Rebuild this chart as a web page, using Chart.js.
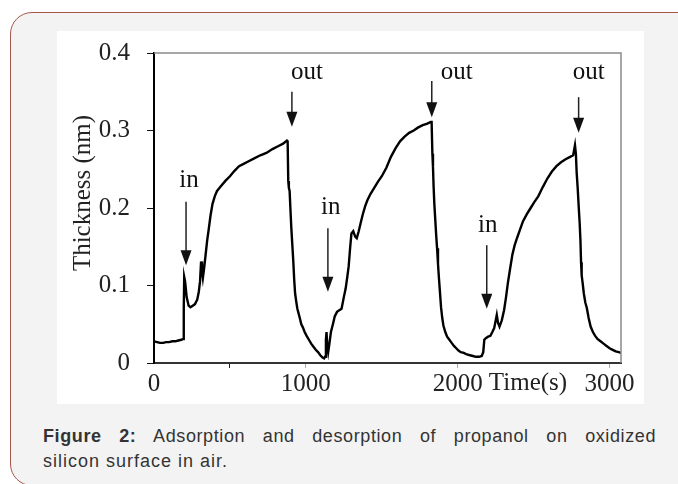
<!DOCTYPE html>
<html>
<head>
<meta charset="utf-8">
<script src="https://cdn.jsdelivr.net/npm/chart.js@4.4.1/dist/chart.umd.min.js"></script>
<style>
  html, body { margin:0; padding:0; }
  body { width:678px; height:484px; overflow:hidden; background:#fff; position:relative; }
  .card { position:absolute; left:10px; top:12px; width:720px; height:472px; border:1.5px solid #a4584c; border-radius:22px; background:#f3f3f3; }
  .panel { position:absolute; left:57px; top:31px; width:587px; height:373px; background:#fff; }
  .cap { position:absolute; left:43px; font-family:'Liberation Sans', Arial, sans-serif; font-size:18px; line-height:25px; color:#333; letter-spacing:1px; white-space:nowrap; }
  .l1 { top:424px; width:613px; text-align:justify; text-align-last:justify; white-space:normal; letter-spacing:0.6px; }
  .l2 { top:449px; }
  canvas { position:absolute; left:57px; top:21px; }
</style>
</head>
<body>
<div class="card"></div>
<div class="panel"></div>
<canvas id="c" width="587" height="383"></canvas>
<div class="cap l1"><b>Figure 2:</b> Adsorption and desorption of propanol on oxidized</div>
<div class="cap l2">silicon surface in air.</div>
<script>
// ---- data (time in s, thickness in nm) ----
const times = [0,20,40,60,80,100,120,140,160,180,192,196,199,205,215,228,240,255,270,285,295,303,310,316,322,330,340,350,360,372,385,400,415,440,470,500,530,560,590,620,660,700,740,780,820,850,875,880,884,888,893,898,904,910,917,923,929,936,944,952,960,970,980,992,1005,1020,1035,1050,1065,1080,1095,1110,1120,1126,1132,1136,1141,1147,1155,1165,1178,1190,1205,1220,1235,1250,1262,1272,1282,1292,1300,1312,1325,1335,1348,1360,1375,1390,1405,1425,1450,1475,1500,1530,1560,1590,1620,1650,1680,1710,1740,1770,1800,1822,1828,1833,1837,1841,1846,1852,1858,1864,1870,1876,1882,1890,1898,1906,1918,1930,1945,1960,1975,1990,2005,2020,2040,2060,2080,2100,2120,2140,2158,2168,2175,2185,2200,2215,2228,2240,2250,2257,2265,2275,2290,2305,2318,2330,2345,2360,2375,2390,2410,2430,2455,2480,2505,2530,2560,2590,2620,2650,2680,2710,2740,2760,2772,2778,2783,2790,2797,2803,2808,2812,2816,2822,2830,2840,2850,2862,2875,2890,2905,2920,2940,2960,2980,3000,3020,3040,3060,3075];
const thickness = [0.028,0.027,0.026,0.026,0.027,0.027,0.028,0.028,0.029,0.030,0.031,0.070,0.111,0.105,0.085,0.074,0.072,0.074,0.076,0.082,0.092,0.105,0.131,0.120,0.110,0.122,0.140,0.158,0.172,0.190,0.205,0.215,0.222,0.228,0.235,0.241,0.248,0.254,0.257,0.260,0.264,0.268,0.271,0.276,0.280,0.283,0.287,0.286,0.235,0.226,0.222,0.200,0.175,0.155,0.132,0.108,0.090,0.080,0.070,0.064,0.058,0.050,0.046,0.040,0.035,0.030,0.025,0.021,0.017,0.014,0.010,0.007,0.006,0.008,0.030,0.040,0.022,0.014,0.025,0.040,0.050,0.060,0.066,0.068,0.070,0.085,0.096,0.110,0.125,0.150,0.167,0.170,0.163,0.161,0.170,0.180,0.192,0.202,0.210,0.218,0.226,0.234,0.241,0.252,0.266,0.277,0.286,0.292,0.297,0.300,0.304,0.307,0.309,0.311,0.311,0.270,0.253,0.228,0.205,0.185,0.165,0.148,0.128,0.110,0.094,0.072,0.058,0.048,0.040,0.034,0.030,0.026,0.022,0.019,0.016,0.014,0.013,0.011,0.010,0.009,0.008,0.008,0.009,0.014,0.030,0.032,0.034,0.035,0.040,0.045,0.055,0.062,0.052,0.047,0.055,0.068,0.085,0.103,0.122,0.140,0.152,0.161,0.172,0.183,0.192,0.200,0.208,0.215,0.227,0.238,0.247,0.254,0.259,0.263,0.266,0.268,0.281,0.270,0.246,0.225,0.200,0.180,0.158,0.130,0.113,0.104,0.090,0.078,0.071,0.058,0.047,0.040,0.035,0.031,0.028,0.025,0.022,0.019,0.017,0.015,0.014,0.013];

// ---- axes / ticks ----
const xMin = 0, xMax = 3075;
const xTicks = [0, 500, 1000, 1500, 2000, 2500, 3000];
const xTickLabels = ['0', '', '1000', '', '2000', '', '3000'];
const yMin = 0, yMax = 0.4;
const yTicks = [0, 0.1, 0.2, 0.3, 0.4];
const yTickLabels = ['0', '0.1', '0.2', '0.3', '0.4'];
const xTitle = 'Time(s)';
const yTitle = 'Thickness (nm)';

// ---- annotations: "in" / "out" arrows ----
const arrowLabels = ['in', 'out', 'in', 'out', 'in', 'out'];
const arrowTimes  = [211, 908, 1145, 1829, 2191, 2796];
const arrowTops   = [0.208, 0.350, 0.174, 0.364, 0.152, 0.343];
const arrowTips   = [0.126, 0.305, 0.092, 0.317, 0.070, 0.297];
const labelTimes  = [230, 1007, 1164, 1993, 2197, 2862];
const labelValues = [0.236, 0.375, 0.201, 0.375, 0.178, 0.375];

const SERIF = "'Liberation Serif', 'Times New Roman', serif";
const FS = 25;

const points = times.map((t, i) => ({ x: t, y: thickness[i] }));

const decor = {
  id: 'decor',
  afterDraw(chart) {
    const { ctx, chartArea: a, scales: { x, y } } = chart;
    ctx.save();
    // top & right frame
    ctx.strokeStyle = '#8a8a8a';
    ctx.lineWidth = 1.5;
    ctx.beginPath();
    ctx.moveTo(a.left, a.top);
    ctx.lineTo(a.right, a.top);
    ctx.lineTo(a.right, a.bottom);
    ctx.stroke();
    // arrows
    ctx.strokeStyle = '#222';
    ctx.fillStyle = '#111';
    ctx.lineWidth = 1.5;
    for (let i = 0; i < arrowTimes.length; i++) {
      const px = x.getPixelForValue(arrowTimes[i]);
      const p1 = y.getPixelForValue(arrowTops[i]);
      const p2 = y.getPixelForValue(arrowTips[i]);
      ctx.beginPath();
      ctx.moveTo(px, p1);
      ctx.lineTo(px, p2 - 12);
      ctx.stroke();
      ctx.beginPath();
      ctx.moveTo(px - 5.5, p2 - 15);
      ctx.lineTo(px + 5.5, p2 - 15);
      ctx.lineTo(px, p2);
      ctx.closePath();
      ctx.fill();
    }
    // labels
    ctx.fillStyle = '#111';
    ctx.font = FS + 'px ' + SERIF;
    ctx.textAlign = 'center';
    ctx.textBaseline = 'middle';
    for (let i = 0; i < arrowLabels.length; i++) {
      ctx.fillText(arrowLabels[i], x.getPixelForValue(labelTimes[i]), y.getPixelForValue(labelValues[i]));
    }
    // x title
    ctx.fillStyle = '#222';
    ctx.fillText(xTitle, 471, a.bottom + 20);
    // y title (centre at page 83,193)
    ctx.translate(26, 172);
    ctx.rotate(-Math.PI / 2);
    ctx.fillText(yTitle, 0, 0);
    ctx.restore();
  }
};

new Chart(document.getElementById('c'), {
  type: 'line',
  data: {
    datasets: [{
      data: points,
      borderColor: '#000',
      borderWidth: 2.4,
      pointRadius: 0,
      tension: 0,
      fill: false
    }]
  },
  options: {
    responsive: false,
    animation: false,
    events: [],
    layout: { padding: { top: 13, right: 23, left: 0, bottom: 0 } },
    plugins: { legend: { display: false }, tooltip: { enabled: false } },
    scales: {
      x: {
        type: 'linear', min: xMin, max: xMax,
        afterBuildTicks(s) { s.ticks = xTicks.map(v => ({ value: v })); },
        afterFit(s) { s.height = 41; },
        ticks: {
          autoSkip: false, maxRotation: 0,
          padding: 1, color: '#222', font: { family: SERIF, size: FS },
          callback: (v) => { const i = xTicks.indexOf(v); return i >= 0 ? xTickLabels[i] : ''; }
        },
        grid: {
          drawOnChartArea: false, drawTicks: true, tickLength: 5,
          tickColor: c => (c.tick && c.tick.value === 500 ? '#222' : (c.tick && c.tick.value % 1000 === 0 && c.tick.value > 0 ? '#aaa' : 'rgba(0,0,0,0)'))
        },
        border: { display: true, color: '#333', width: 2 }
      },
      y: {
        min: yMin, max: yMax,
        afterBuildTicks(s) { s.ticks = yTicks.map(v => ({ value: v })); },
        afterFit(s) { s.width = 97; },
        ticks: {
          autoSkip: false, padding: 17, color: '#222', font: { family: SERIF, size: FS },
          callback: (v) => { const i = yTicks.findIndex(t => Math.abs(t - v) < 1e-9); return i >= 0 ? yTickLabels[i] : ''; }
        },
        grid: { drawOnChartArea: false, drawTicks: true, tickLength: 7, tickColor: '#111' },
        border: { display: true, color: '#000', width: 2 }
      }
    }
  },
  plugins: [decor]
});
</script>
</body>
</html>
